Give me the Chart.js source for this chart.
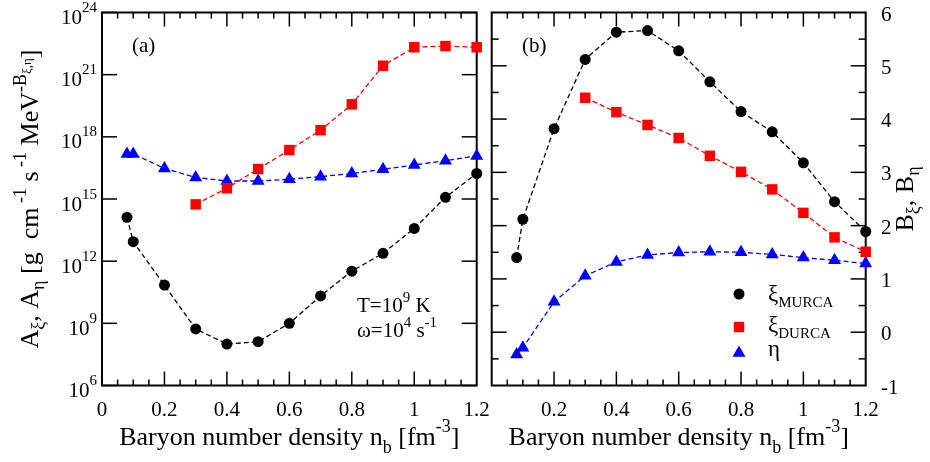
<!DOCTYPE html>
<html>
<head>
<meta charset="utf-8">
<script src="https://cdn.jsdelivr.net/npm/chart.js@4.4.0/dist/chart.umd.min.js"></script>
<style>
  html, body { margin: 0; padding: 0; background: #fff; }
  #wrap { position: relative; width: 930px; height: 462px; overflow: hidden; }
  canvas { position: absolute; top: 0; }
  #cvA { left: 0; }
  #cvB { left: 484px; }
</style>
</head>
<body>
<div id="wrap">
  <canvas id="cvA" width="510" height="462"></canvas>
  <canvas id="cvB" width="446" height="462"></canvas>
</div>
<script>
// baryon densities (fm^-3)
const density = [0.08, 0.1, 0.2, 0.3, 0.4, 0.5, 0.6, 0.7, 0.8, 0.9, 1.0, 1.1, 1.2];
const densityDurca = [0.3, 0.4, 0.5, 0.6, 0.7, 0.8, 0.9, 1.0, 1.1, 1.2];

// panel (a): A coefficients
const aMurca = [1.3e14, 8.7e12, 7e10, 5.4e8, 1.0e8, 1.3e8, 1.0e9, 2.1e10, 3.3e11, 2.4e12, 3.8e13, 1.2e15, 1.7e16];
const aDurca = [5.5e14, 3.3e15, 2.8e16, 2.3e17, 2.1e18, 3.7e19, 2.7e21, 2.1e22, 2.4e22, 2.1e22];
const aEta = [1.5e17, 1.5e17, 3.0e16, 1.1e16, 7.4e15, 7.4e15, 9e15, 1.2e16, 1.7e16, 2.7e16, 4.4e16, 7.1e16, 1.2e17];

// panel (b): B exponents
const bMurca = [1.40, 2.12, 3.82, 5.12, 5.63, 5.66, 5.28, 4.70, 4.14, 3.76, 3.18, 2.45, 1.89];
const bDurca = [4.40, 4.13, 3.89, 3.645, 3.31, 3.01, 2.68, 2.24, 1.78, 1.51];
const bEta = [-0.42, -0.29, 0.57, 1.06, 1.32, 1.45, 1.495, 1.51, 1.50, 1.46, 1.40, 1.35, 1.29];

// tick labels
const logTickExps = [6, 9, 12, 15, 18, 21, 24];
const bTickValues = [-1, 0, 1, 2, 3, 4, 5, 6];

const SERIF = '"Liberation Serif", "Times New Roman", serif';
Chart.defaults.font.family = SERIF;
Chart.defaults.color = '#000';

function drawRich(ctx, parts, x, y, align) {
  // parts: [text, size, dy]
  let w = 0;
  parts.forEach(p => { ctx.font = p[1] + 'px ' + SERIF; w += ctx.measureText(p[0]).width; });
  let cx = align === 'right' ? x - w : align === 'center' ? x - w / 2 : x;
  ctx.textAlign = 'left';
  ctx.textBaseline = 'alphabetic';
  ctx.fillStyle = '#000';
  parts.forEach(p => {
    ctx.font = p[1] + 'px ' + SERIF;
    ctx.fillText(p[0], cx, y + (p[2] || 0));
    cx += ctx.measureText(p[0]).width;
  });
}

function seg(ctx, x1, y1, x2, y2) {
  ctx.beginPath();
  ctx.moveTo(x1, y1);
  ctx.lineTo(x2, y2);
  ctx.stroke();
}

function series(label, xs, ys, color, shape, radius) {
  return {
    label: label,
    data: xs.map((x, i) => ({ x: x, y: ys[i] })),
    borderColor: color,
    borderWidth: 1.3,
    borderDash: [5, 3],
    pointStyle: shape,
    pointRadius: radius,
    pointBackgroundColor: color,
    pointBorderColor: color,
    pointBorderWidth: 0,
    tension: 0,
    clip: false
  };
}

function xTickLabel(v) {
  return String(+v.toFixed(2));
}

function drawXTicks(ctx, a, x) {
  for (let i = 1; i < 24; i++) {
    const px = x.getPixelForValue(i * 0.05);
    const len = i % 4 === 0 ? 14 : 6;
    seg(ctx, px, a.bottom, px, a.bottom - len);
    seg(ctx, px, a.top, px, a.top + len);
  }
}

function xTitle(ctx, cx) {
  drawRich(ctx, [['Baryon number density n', 26, 0], ['b', 18, 8], [' [fm', 26, 0], ['-3', 18, -13], [']', 26, 0]], cx, 445, 'center');
}

const panelA = {
  id: 'panelA',
  beforeDatasetsDraw(chart) {
    const { ctx, chartArea: a, scales: { x, y } } = chart;
    ctx.save();
    ctx.strokeStyle = '#000';
    ctx.lineWidth = 1.5;
    drawXTicks(ctx, a, x);
    logTickExps.forEach(e => {
      const py = y.getPixelForValue(Math.pow(10, e));
      seg(ctx, a.left, py, a.left + 15, py);
      seg(ctx, a.right, py, a.right - 15, py);
    });
    ctx.lineWidth = 2;
    ctx.strokeRect(a.left, a.top, a.right - a.left, a.bottom - a.top);
    ctx.restore();
  },
  afterDraw(chart) {
    const { ctx, chartArea: a, scales: { y } } = chart;
    ctx.save();
    logTickExps.forEach(e => {
      const py = y.getPixelForValue(Math.pow(10, e));
      drawRich(ctx, [['10', 21, 0], [String(e), 15, -12]], 97, py + 11.5, 'right');
    });
    xTitle(ctx, (a.left + a.right) / 2);
    // y title
    ctx.save();
    ctx.translate(38, (a.top + a.bottom) / 2);
    ctx.rotate(-Math.PI / 2);
    drawRich(ctx, [['A', 26, 0], ['ξ', 18, 6], [', A', 26, 0], ['η', 18, 6], [' [g  cm', 26, 0], [' -1', 18, -12],
      [' s', 26, 0], [' -1', 18, -12], [' MeV', 26, 0], ['-B', 18, -12], ['ξ,η', 13, -7], [']', 26, 0]], 0, 0, 'center');
    ctx.restore();
    drawRich(ctx, [['(a)', 21, 0]], 132, 52, 'left');
    drawRich(ctx, [['T=10', 21, 0], ['9', 15, -10], [' K', 21, 0]], 357, 312, 'left');
    drawRich(ctx, [['ω=10', 21, 0], ['4', 15, -10], [' s', 21, 0], ['-1', 15, -10]], 357, 337, 'left');
    ctx.restore();
  }
};

const legendItems = [
  { color: '#000', shape: 'circle', name: 'MURCA', y: 294, base: 301 },
  { color: '#ff0000', shape: 'rect', name: 'DURCA', y: 327, base: 332 },
  { color: '#0000ff', shape: 'triangle', name: '', y: 353, base: 356 }
];

const panelB = {
  id: 'panelB',
  beforeDatasetsDraw(chart) {
    const { ctx, chartArea: a, scales: { x, y } } = chart;
    ctx.save();
    ctx.strokeStyle = '#000';
    ctx.lineWidth = 1.5;
    drawXTicks(ctx, a, x);
    for (let i = 1; i < 14; i++) {
      const py = y.getPixelForValue(-1 + i * 0.5);
      const len = i % 2 === 0 ? 15 : 7;
      seg(ctx, a.left, py, a.left + len, py);
      seg(ctx, a.right, py, a.right - len, py);
    }
    ctx.lineWidth = 2;
    ctx.strokeRect(a.left, a.top, a.right - a.left, a.bottom - a.top);
    ctx.restore();
  },
  afterDraw(chart) {
    const { ctx, chartArea: a } = chart;
    ctx.save();
    xTitle(ctx, (a.left + a.right) / 2);
    ctx.save();
    ctx.translate(429, (a.top + a.bottom) / 2);
    ctx.rotate(-Math.PI / 2);
    drawRich(ctx, [['B', 26, 0], ['ξ', 18, 6], [', B', 26, 0], ['η', 18, 6]], 0, 0, 'center');
    ctx.restore();
    drawRich(ctx, [['(b)', 21, 0]], 38, 52, 'left');
    // legend
    legendItems.forEach(it => {
      ctx.fillStyle = it.color;
      ctx.beginPath();
      if (it.shape === 'circle') {
        ctx.arc(255, it.y, 5.5, 0, Math.PI * 2);
      } else if (it.shape === 'rect') {
        ctx.rect(255 - 5.2, it.y - 5.2, 10.4, 10.4);
      } else {
        ctx.moveTo(255, it.y - 7.5);
        ctx.lineTo(255 + 6.5, it.y + 3.75);
        ctx.lineTo(255 - 6.5, it.y + 3.75);
        ctx.closePath();
      }
      ctx.fill();
      if (it.name) {
        drawRich(ctx, [['ξ', 23, 0], [it.name, 15, 6]], 284, it.base, 'left');
      } else {
        drawRich(ctx, [['η', 23, 0]], 284, it.base, 'left');
      }
    });
    ctx.restore();
  }
};

new Chart(document.getElementById('cvA'), {
  type: 'line',
  data: {
    datasets: [
      series('ξ MURCA', density, aMurca, '#000000', 'circle', 5.5),
      series('ξ DURCA', densityDurca, aDurca, '#ff0000', 'rect', 7.4),
      series('η', density, aEta, '#0000ff', 'triangle', 7.5)
    ]
  },
  options: {
    responsive: false,
    animation: false,
    layout: { padding: { top: 12.5, right: 33.3, left: 0, bottom: 0 } },
    plugins: { legend: { display: false }, tooltip: { enabled: false } },
    scales: {
      x: {
        type: 'linear', min: 0, max: 1.2,
        grid: { display: false }, border: { display: false },
        ticks: { stepSize: 0.2, padding: 4.5, font: { size: 21 }, maxRotation: 0, autoSkip: false, callback: xTickLabel },
        afterFit: s => { s.height = 76.5; s.paddingLeft = 0; s.paddingRight = 0; }
      },
      y: {
        type: 'logarithmic', min: 1e6, max: 1e24,
        grid: { display: false }, border: { display: false },
        ticks: { display: false },
        afterFit: s => { s.width = 102; s.paddingTop = 0; s.paddingBottom = 0; }
      }
    }
  },
  plugins: [panelA]
});

new Chart(document.getElementById('cvB'), {
  type: 'line',
  data: {
    datasets: [
      series('ξ MURCA', density, bMurca, '#000000', 'circle', 5.5),
      series('ξ DURCA', densityDurca, bDurca, '#ff0000', 'rect', 7.4),
      series('η', density, bEta, '#0000ff', 'triangle', 7.5)
    ]
  },
  options: {
    responsive: false,
    animation: false,
    layout: { padding: { top: 12.5, right: 0, left: 7.7, bottom: 0 } },
    plugins: { legend: { display: false }, tooltip: { enabled: false } },
    scales: {
      x: {
        type: 'linear', min: 0, max: 1.2,
        grid: { display: false }, border: { display: false },
        ticks: { stepSize: 0.2, padding: 4.5, font: { size: 21 }, maxRotation: 0, autoSkip: false,
          callback: v => (v === 0 ? '' : xTickLabel(v)) },
        afterFit: s => { s.height = 76.5; s.paddingLeft = 0; s.paddingRight = 0; }
      },
      y: {
        type: 'linear', position: 'right', min: bTickValues[0], max: bTickValues[bTickValues.length - 1],
        grid: { display: false }, border: { display: false },
        ticks: { stepSize: 1, padding: 7.3, labelOffset: 2.5, font: { size: 21 } },
        afterFit: s => { s.width = 64.3; s.paddingTop = 0; s.paddingBottom = 0; }
      }
    }
  },
  plugins: [panelB]
});
</script>
</body>
</html>
